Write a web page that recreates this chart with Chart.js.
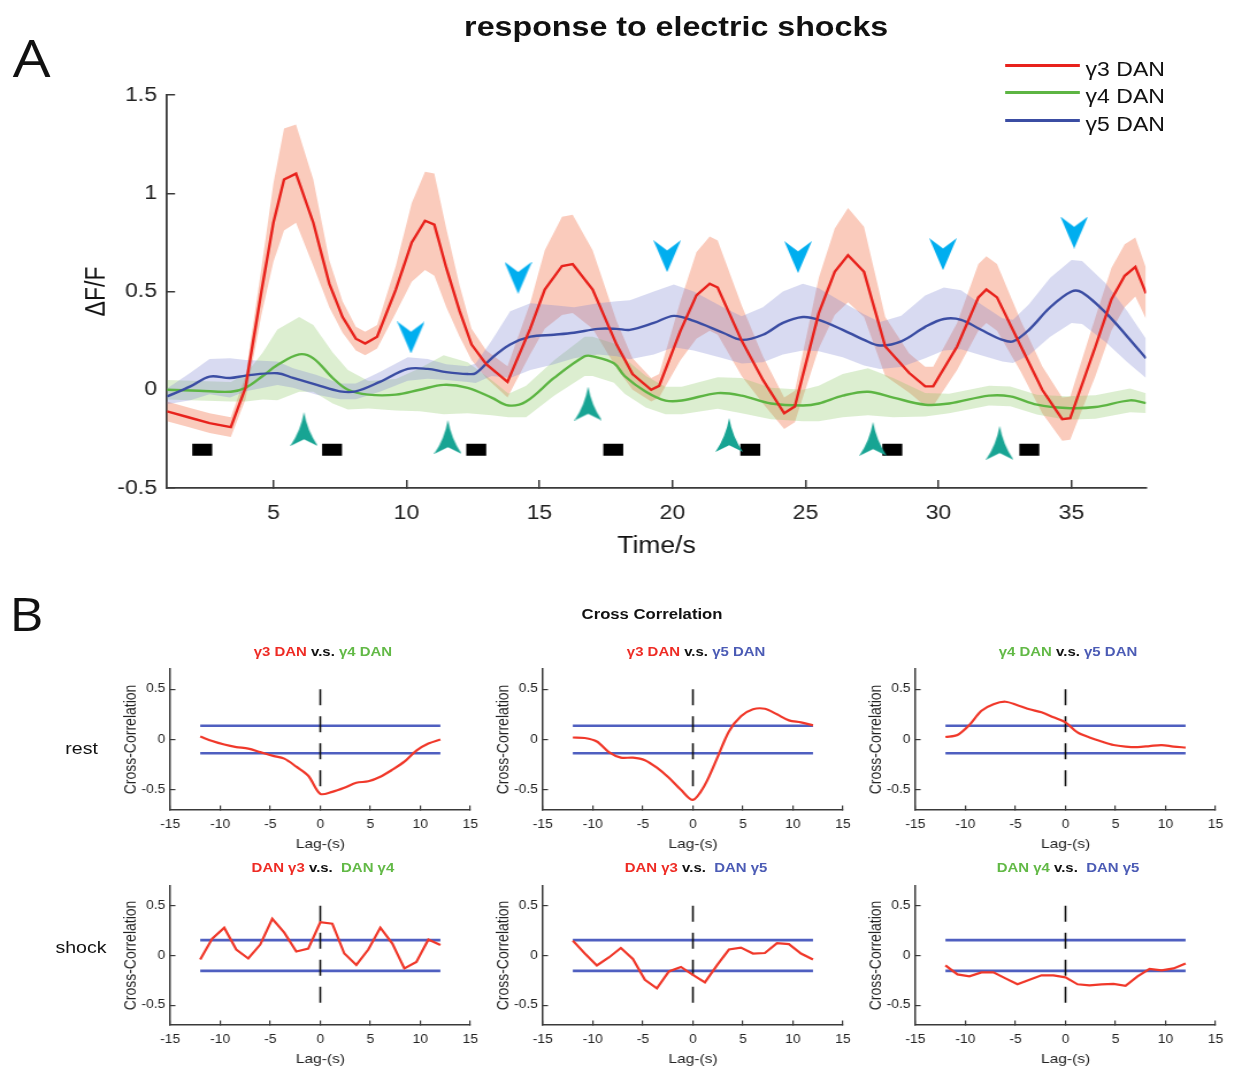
<!DOCTYPE html>
<html><head><meta charset="utf-8">
<script src="https://cdn.jsdelivr.net/npm/chart.js@4.4.1/dist/chart.umd.min.js"></script>
<style>
html,body{margin:0;padding:0;background:#fff;overflow:hidden;width:1234px;height:1067px;}
#page{position:absolute;left:0;top:0;width:1073px;height:1067px;transform:scaleX(1.15);transform-origin:0 0;font-family:"Liberation Sans",Arial,sans-serif;color:#111;}
canvas{position:absolute;}
.t{position:absolute;white-space:nowrap;}
.c{text-align:center;}
.b{font-weight:bold;}
.lg{position:absolute;height:3px;width:65px;left:874px;}
</style></head><body><div id="page">
<canvas id="cA" width="1073" height="575" style="left:0;top:0"></canvas>
<canvas id="c11" width="335" height="202" style="left:92.8px;top:653px"></canvas>
<canvas id="c12" width="335" height="202" style="left:417.2px;top:653px"></canvas>
<canvas id="c13" width="335" height="202" style="left:740.7px;top:653px"></canvas>
<canvas id="c21" width="335" height="200" style="left:92.8px;top:870px"></canvas>
<canvas id="c22" width="335" height="200" style="left:417.2px;top:870px"></canvas>
<canvas id="c23" width="335" height="200" style="left:740.7px;top:870px"></canvas>

<div class="t c b" style="left:288px;width:600px;top:11px;font-size:28px;line-height:32px;">response to electric shocks</div>
<div class="t" style="left:11px;top:31px;font-family:'Open Sans',sans-serif;font-size:52px;line-height:52px;">A</div>
<div class="t" style="left:8px;top:590px;font-family:'Open Sans',sans-serif;font-size:46px;line-height:46px;">B</div>

<div class="lg" style="top:63.5px;background:#e8221c"></div>
<div class="lg" style="top:91.2px;background:#5db543"></div>
<div class="lg" style="top:119.2px;background:#3b4da3"></div>
<div class="t" style="left:944px;top:56.5px;font-size:20px;line-height:24px;">γ3 DAN</div>
<div class="t" style="left:944px;top:84px;font-size:20px;line-height:24px;">γ4 DAN</div>
<div class="t" style="left:944px;top:112px;font-size:20px;line-height:24px;">γ5 DAN</div>

<div class="t c b" style="left:417px;width:300px;top:605px;font-size:14.5px;line-height:18px;">Cross Correlation</div>

<div class="t c b" style="left:130.8px;width:300px;top:643px;font-size:13px;line-height:18px;"><span style="color:#ee2b24">γ3 DAN</span> v.s. <span style="color:#62b946">γ4 DAN</span></div>
<div class="t c b" style="left:455.3px;width:300px;top:643px;font-size:13px;line-height:18px;"><span style="color:#ee2b24">γ3 DAN</span> v.s. <span style="color:#4b5bb5">γ5 DAN</span></div>
<div class="t c b" style="left:778.7px;width:300px;top:643px;font-size:13px;line-height:18px;"><span style="color:#62b946">γ4 DAN</span> v.s. <span style="color:#4b5bb5">γ5 DAN</span></div>
<div class="t c b" style="left:130.8px;width:300px;top:859px;font-size:13px;line-height:18px;"><span style="color:#ee2b24">DAN γ3</span> v.s. &nbsp;<span style="color:#62b946">DAN γ4</span></div>
<div class="t c b" style="left:455.3px;width:300px;top:859px;font-size:13px;line-height:18px;"><span style="color:#ee2b24">DAN γ3</span> v.s. &nbsp;<span style="color:#4b5bb5">DAN γ5</span></div>
<div class="t c b" style="left:778.7px;width:300px;top:859px;font-size:13px;line-height:18px;"><span style="color:#62b946">DAN γ4</span> v.s. &nbsp;<span style="color:#4b5bb5">DAN γ5</span></div>

<div class="t c" style="left:31px;width:80px;top:739px;font-size:17px;line-height:20px;">rest</div>
<div class="t c" style="left:30.4px;width:80px;top:938px;font-size:17px;line-height:20px;">shock</div>
</div>
<script>
// ---------- Panel A data ----------
const timeG3 = [1.0,1.8,2.6,3.4,3.95,4.55,5.0,5.4,5.85,6.5,7.1,7.6,8.1,8.45,8.9,9.6,10.2,10.7,11.05,11.5,12.0,12.45,13.0,13.8,14.65,15.2,15.85,16.25,17.0,17.9,18.5,19.2,19.5,20.3,20.9,21.4,21.7,22.6,23.4,24.2,24.6,25.5,26.1,26.6,27.2,28.0,28.9,29.5,29.8,30.7,31.5,31.8,32.2,33.1,33.9,34.65,34.95,35.9,36.5,37.0,37.4,37.8];
const meanG3 = [-0.11,-0.14,-0.17,-0.19,0.01,0.50,0.85,1.07,1.10,0.85,0.54,0.37,0.26,0.235,0.27,0.51,0.75,0.86,0.84,0.62,0.40,0.23,0.13,0.04,0.31,0.51,0.63,0.64,0.51,0.23,0.08,0.0,0.02,0.30,0.48,0.54,0.52,0.25,0.05,-0.12,-0.085,0.39,0.60,0.685,0.60,0.22,0.085,0.017,0.017,0.22,0.47,0.51,0.47,0.22,0.0,-0.15,-0.145,0.22,0.46,0.58,0.625,0.49];
const semG3 = [0.05,0.05,0.05,0.05,0.06,0.12,0.2,0.26,0.25,0.22,0.12,0.08,0.06,0.06,0.06,0.12,0.2,0.25,0.26,0.2,0.13,0.08,0.07,0.08,0.13,0.2,0.25,0.25,0.2,0.12,0.08,0.06,0.06,0.15,0.22,0.24,0.24,0.18,0.12,0.08,0.08,0.18,0.22,0.24,0.23,0.15,0.1,0.1,0.1,0.12,0.17,0.17,0.17,0.13,0.12,0.11,0.11,0.15,0.16,0.16,0.15,0.13];

const timeG4 = [1.0,2.2,3.4,3.96,4.6,5.15,5.97,6.5,7.23,7.8,8.57,9.6,10.5,11.4,12.3,13.2,13.84,14.5,15.55,16.7,17.0,17.8,18.2,19.0,19.74,20.35,21.7,22.6,23.7,24.9,25.5,26.4,27.35,28.3,29.5,30.4,31.9,32.7,33.7,34.8,35.9,37.2,37.8];
const meanG4 = [0.0,-0.005,-0.01,0.01,0.07,0.126,0.18,0.16,0.06,0.0,-0.025,-0.025,0.0,0.025,0.01,-0.04,-0.08,-0.06,0.06,0.17,0.17,0.135,0.07,-0.01,-0.055,-0.055,-0.017,-0.03,-0.07,-0.08,-0.07,-0.03,-0.01,-0.04,-0.076,-0.07,-0.03,-0.034,-0.076,-0.093,-0.088,-0.054,-0.068];
const semG4 = [0.05,0.05,0.05,0.07,0.12,0.18,0.19,0.17,0.13,0.1,0.07,0.08,0.11,0.15,0.13,0.09,0.06,0.08,0.09,0.1,0.1,0.1,0.09,0.08,0.07,0.07,0.08,0.09,0.08,0.08,0.09,0.11,0.12,0.1,0.06,0.05,0.05,0.05,0.05,0.06,0.06,0.06,0.05];

const timeG5 = [1.0,1.88,2.6,3.37,3.96,5.15,5.74,6.63,7.5,8.1,9.0,10.05,10.8,11.5,12.3,12.6,13.2,13.9,14.66,15.55,16.3,17.2,17.9,18.4,19.3,20.05,20.8,21.9,22.6,23.4,24.15,24.9,25.5,26.4,27.2,27.8,28.6,29.5,30.2,30.85,31.6,32.4,32.8,33.4,34.2,35.0,35.4,36.3,37.1,37.8];
const meanG5 = [-0.034,0.017,0.067,0.06,0.072,0.084,0.06,0.025,-0.008,-0.008,0.04,0.106,0.106,0.09,0.08,0.084,0.16,0.23,0.27,0.28,0.29,0.31,0.31,0.305,0.34,0.376,0.35,0.29,0.254,0.28,0.34,0.37,0.356,0.305,0.254,0.225,0.246,0.32,0.36,0.356,0.305,0.254,0.246,0.305,0.42,0.5,0.495,0.39,0.27,0.16];
const semG5 = [0.04,0.07,0.09,0.1,0.08,0.06,0.05,0.05,0.04,0.04,0.05,0.06,0.05,0.04,0.04,0.05,0.09,0.17,0.17,0.15,0.13,0.13,0.14,0.15,0.16,0.16,0.15,0.13,0.12,0.14,0.16,0.17,0.16,0.14,0.13,0.12,0.13,0.16,0.16,0.15,0.13,0.11,0.11,0.13,0.15,0.16,0.16,0.15,0.13,0.1];

const xTicksA = [5,10,15,20,25,30,35];
const yTicksA = [-0.5,0,0.5,1,1.5];
const shockStart = [1.95,6.83,12.25,17.4,22.55,27.89,33.04];
const shockDur = 0.75;
const shockLevel = -0.305;
const cyanT = [10.17,14.2,19.8,24.72,30.17,35.1];
const cyanV = [0.266,0.57,0.68,0.675,0.69,0.80];
const tealT = [6.15,11.56,16.83,22.13,27.54,32.3];
const tealV = [-0.20,-0.24,-0.07,-0.23,-0.25,-0.27];

// ---------- Panel B data ----------
const lags = [-12,-10.8,-9.6,-8.4,-7.2,-6,-4.8,-3.6,-2.4,-1.2,0,1.2,2.4,3.6,4.8,6,7.2,8.4,9.6,10.8,12];
const restG3G4 = [0.03,-0.015,-0.05,-0.075,-0.09,-0.125,-0.16,-0.19,-0.27,-0.36,-0.54,-0.52,-0.48,-0.43,-0.415,-0.37,-0.3,-0.22,-0.11,-0.04,0.0];
const restG3G5 = [0.02,0.015,-0.02,-0.125,-0.18,-0.18,-0.205,-0.28,-0.38,-0.5,-0.6,-0.45,-0.19,0.08,0.23,0.3,0.305,0.25,0.19,0.17,0.14];
const restG4G5 = [0.025,0.045,0.145,0.285,0.35,0.375,0.34,0.3,0.27,0.22,0.17,0.07,0.02,-0.02,-0.055,-0.07,-0.075,-0.065,-0.055,-0.07,-0.08];
const shockG3G4 = [-0.04,0.17,0.28,0.06,-0.03,0.11,0.37,0.23,0.04,0.07,0.335,0.32,0.02,-0.095,0.06,0.28,0.12,-0.13,-0.065,0.16,0.105];
const shockG3G5 = [0.15,0.02,-0.1,-0.02,0.075,-0.035,-0.245,-0.33,-0.16,-0.115,-0.195,-0.27,-0.1,0.06,0.08,0.02,0.025,0.125,0.115,0.02,-0.04];
const shockG4G5 = [-0.1,-0.19,-0.21,-0.17,-0.17,-0.23,-0.29,-0.245,-0.2,-0.2,-0.22,-0.29,-0.3,-0.29,-0.285,-0.305,-0.21,-0.135,-0.15,-0.13,-0.08];
const restThreshold = 0.137;
const shockThreshold = 0.155;
const lagTicks = [-15,-10,-5,0,5,10,15];
const ccTicks = [-0.5,0,0.5];

// ---------- helpers ----------
const FONT = '"Liberation Sans", Arial, sans-serif';
const AX = '#3a3a3a';
const pts = (xs, ys) => xs.map((x, i) => ({x: x, y: ys[i]}));
const fixedTicks = arr => scale => { scale.ticks = arr.map(v => ({value: v})); };

function arrowImg(color, w, h, up) {
  const c = document.createElement('canvas'); c.width = w; c.height = h;
  const g = c.getContext('2d'); g.fillStyle = color; g.beginPath();
  if (up) { g.moveTo(w/2, 0); g.quadraticCurveTo(w*0.62, h*0.55, w, h); g.lineTo(w/2, h*0.8); g.lineTo(0, h); g.quadraticCurveTo(w*0.38, h*0.55, w/2, 0); }
  else { g.moveTo(0, 0); g.lineTo(w/2, h*0.32); g.lineTo(w, 0); g.lineTo(w/2, h); }
  g.closePath(); g.fill(); return c;
}
const cyanImg = arrowImg('#00aeef', 24, 32, false);
const tealImg = arrowImg('#17a493', 24, 34, true);

function bandSets(xs, m, e, col, ord) {
  return [
    {data: pts(xs, m.map((v, i) => v + e[i])), borderWidth: 0, pointRadius: 0, fill: false, order: ord},
    {data: pts(xs, m.map((v, i) => v - e[i])), borderWidth: 0, pointRadius: 0, fill: '-1', backgroundColor: col, order: ord}
  ];
}

const dsA = [];
dsA.push(...bandSets(timeG5, meanG5, semG5, 'rgba(125,132,210,0.30)', 30));
dsA.push(...bandSets(timeG4, meanG4, semG4, 'rgba(138,200,98,0.30)', 30));
dsA.push(...bandSets(timeG3, meanG3, semG3, 'rgba(242,126,88,0.40)', 30));
dsA.push({data: pts(timeG4, meanG4), borderColor: '#5db543', borderWidth: 2.4, pointRadius: 0, tension: 0.35, fill: false, order: 6});
dsA.push({data: pts(timeG5, meanG5), borderColor: '#3b4da3', borderWidth: 2.4, pointRadius: 0, tension: 0.35, fill: false, order: 5});
dsA.push({data: pts(timeG3, meanG3), borderColor: '#e8221c', borderWidth: 2.4, pointRadius: 0, tension: 0, fill: false, order: 4});
shockStart.forEach(s => dsA.push({data: [{x: s, y: shockLevel}, {x: s + shockDur, y: shockLevel}], borderColor: '#000', borderWidth: 12, borderCapStyle: 'butt', pointRadius: 0, fill: false, order: 2}));
dsA.push({data: pts(cyanT, cyanV), showLine: false, pointStyle: cyanImg, pointRadius: 5, order: 1});
dsA.push({data: pts(tealT, tealV), showLine: false, pointStyle: tealImg, pointRadius: 5, order: 1});

new Chart(document.getElementById('cA'), {
  type: 'line',
  data: {datasets: dsA},
  options: {
    responsive: false, animation: false, devicePixelRatio: 1,
    layout: {padding: {left: 0, right: 76.5, top: 95, bottom: 0}},
    plugins: {legend: {display: false}, tooltip: {enabled: false}, title: {display: false}},
    scales: {
      x: {type: 'linear', min: 1, max: 37.8, afterBuildTicks: fixedTicks(xTicksA), afterFit: s => { s.height = 575 - 488; },
        grid: {drawOnChartArea: false, drawTicks: true, tickLength: -8, color: AX, tickColor: AX, lineWidth: 1.5},
        border: {display: true, color: AX, width: 1.8},
        ticks: {color: '#222', font: {family: FONT, size: 20}, padding: 21, maxRotation: 0, autoSkip: false, callback: v => String(v)},
        title: {display: true, text: 'Time/s', color: '#111', font: {family: FONT, size: 23}, padding: {top: 0, bottom: 14.6}}},
      y: {type: 'linear', min: -0.5, max: 1.5, afterBuildTicks: fixedTicks(yTicksA), afterFit: s => { s.width = 145.2; },
        grid: {drawOnChartArea: false, drawTicks: true, tickLength: -7, color: AX, tickColor: AX, lineWidth: 1.5},
        border: {display: true, color: AX, width: 1.8},
        ticks: {color: '#222', font: {family: FONT, size: 20}, padding: 15.7, autoSkip: false, callback: v => String(v)},
        title: {display: true, text: 'ΔF/F', color: '#111', font: {family: FONT, size: 23}, padding: {top: 70.5, bottom: 0}}}
    }
  }
});

function ccChart(id, values, thr, smooth) {
  const lo = lags[0], hi = lags[lags.length - 1];
  new Chart(document.getElementById(id), {
    type: 'line',
    data: {datasets: [
      {data: [{x: lo, y: thr}, {x: hi, y: thr}], borderColor: '#4f5fc0', borderWidth: 2.6, pointRadius: 0, fill: false, order: 5},
      {data: [{x: lo, y: -thr}, {x: hi, y: -thr}], borderColor: '#4f5fc0', borderWidth: 2.6, pointRadius: 0, fill: false, order: 5},
      {data: [{x: 0, y: ccTicks[2]}, {x: 0, y: ccTicks[0]}], borderColor: '#111', borderWidth: 1.6, borderDash: [16, 11], pointRadius: 0, fill: false, order: 3},
      {data: pts(lags, values), borderColor: '#f0382a', borderWidth: 2.2, pointRadius: 0, tension: smooth ? 0.3 : 0, fill: false, order: 1}
    ]},
    options: {
      responsive: false, animation: false, devicePixelRatio: 1,
      layout: {padding: {left: 0, right: 14, top: 10, bottom: 0}},
      plugins: {legend: {display: false}, tooltip: {enabled: false}},
      scales: {
        x: {type: 'linear', min: -15, max: 15, afterBuildTicks: fixedTicks(lagTicks), afterFit: s => { s.height = 45; },
          grid: {drawOnChartArea: false, drawTicks: true, tickLength: -4.5, color: AX, tickColor: AX, lineWidth: 1.2},
          border: {display: true, color: AX, width: 1.5},
          ticks: {color: '#222', font: {family: FONT, size: 12}, padding: 12.3, maxRotation: 0, autoSkip: false, callback: v => String(v)},
          title: {display: true, text: 'Lag-(s)', color: '#222', font: {family: FONT, size: 13.5}, padding: {top: 0, bottom: 2.9}}},
        y: {type: 'linear', min: -0.7, max: 0.7, afterBuildTicks: fixedTicks(ccTicks), afterFit: s => { s.width = 55; },
          grid: {drawOnChartArea: false, drawTicks: true, tickLength: -4.5, color: AX, tickColor: AX, lineWidth: 1.2},
          border: {display: true, color: AX, width: 1.5},
          ticks: {color: '#222', font: {family: FONT, size: 12}, padding: 8.8, autoSkip: false, callback: v => String(v)},
          title: {display: true, text: 'Cross-Correlation', color: '#222', font: {family: FONT, size: 14}, padding: {top: 12.7, bottom: 0}}}
      }
    }
  });
}
ccChart('c11', restG3G4, restThreshold, true);
ccChart('c12', restG3G5, restThreshold, true);
ccChart('c13', restG4G5, restThreshold, true);
ccChart('c21', shockG3G4, shockThreshold, false);
ccChart('c22', shockG3G5, shockThreshold, false);
ccChart('c23', shockG4G5, shockThreshold, false);
</script>
</body></html>
